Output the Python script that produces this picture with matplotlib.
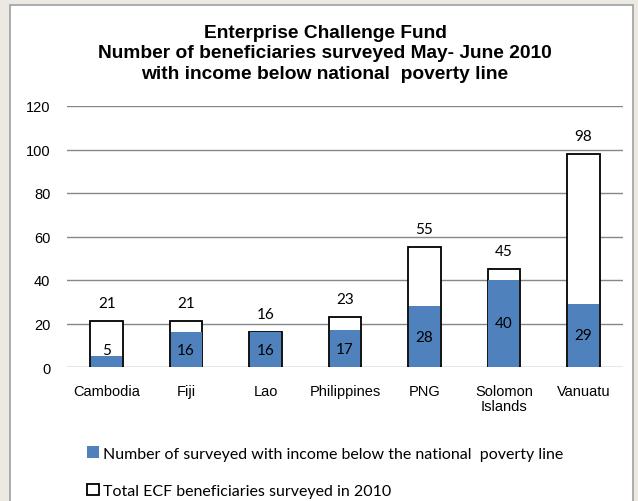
import numpy as np
import matplotlib
matplotlib.use('Agg')
from matplotlib import pyplot as plt
from matplotlib.patches import Rectangle

countries = ['Cambodia', 'Fiji', 'Lao', 'Philippines', 'PNG', 'Solomon\nIslands', 'Vanuatu']
below_line = [5, 16, 16, 17, 28, 40, 29]
total = [21, 21, 16, 23, 55, 45, 98]

blue = '#4F81BD'
W, H = 638, 502

fig = plt.figure(figsize=(W / 100, H / 100), dpi=100, facecolor='#ECE9E3')
# white chart panel with a thin grey border
fig.patches.append(Rectangle((10 / W, -0.01), 623 / W, 1.01 - 6 / H, transform=fig.transFigure,
                             facecolor='white', edgecolor='#A0A0A0', linewidth=1.2, zorder=-10))

ax = fig.add_axes([67 / W, 134 / H, 556 / W, 261 / H])
ax.set_facecolor('none')

x = np.arange(len(countries))
bw = 0.41
ax.bar(x, total, bw, color='white', edgecolor='black', linewidth=1.3, zorder=2,
       label='Total ECF beneficiaries surveyed in 2010')
ax.bar(x, below_line, bw - 0.02, color=blue, linewidth=0, zorder=3,
       label='Number of surveyed with income below the national  poverty line')

lab_font = dict(family='Lato', fontsize=11, color='black')
for xi, t, b in zip(x, total, below_line):
    ax.annotate(str(t), (xi, t), xytext=(0, 13), textcoords='offset points',
                ha='center', va='center', zorder=4, **lab_font)
    ax.text(xi, max(b / 2, 8), str(b), ha='center', va='center', zorder=4, **lab_font)

ax.set_xlim(-0.5, len(countries) - 0.5)
ax.set_ylim(0, 120)
ax.set_yticks(np.arange(0, 121, 20))
ax.yaxis.grid(True, color='#878787', linewidth=1)
ax.set_axisbelow(True)
for s in ax.spines.values():
    s.set_visible(False)
ax.tick_params(length=0)
ax.tick_params(axis='y', pad=12)
ax.tick_params(axis='x', pad=12)
ax.set_xticks(x)
ax.set_xticklabels(countries, family='Liberation Sans', fontsize=10.5, linespacing=1.15)
for t in ax.get_yticklabels():
    t.set_family('Liberation Sans')
    t.set_fontsize(10.5)

fig.text(325 / W, 1 - 54 / H,
         'Enterprise Challenge Fund\nNumber of beneficiaries surveyed May- June 2010\nwith income below national  poverty line',
         ha='center', va='center', family='Liberation Sans', fontweight='bold',
         fontsize=13.8, linespacing=1.3)

# legend drawn as two rows below the plot
handles, labels = ax.get_legend_handles_labels()
leg = fig.legend(handles[::-1], labels[::-1], loc='upper left', bbox_to_anchor=(73 / W, 1 - 433 / H),
                 frameon=False, prop={'family': 'Lato', 'size': 11.5}, handlelength=0.7,
                 handleheight=0.7, handletextpad=0.3, labelspacing=1.45)

plt.savefig('out.png', dpi=100, facecolor=fig.get_facecolor())
